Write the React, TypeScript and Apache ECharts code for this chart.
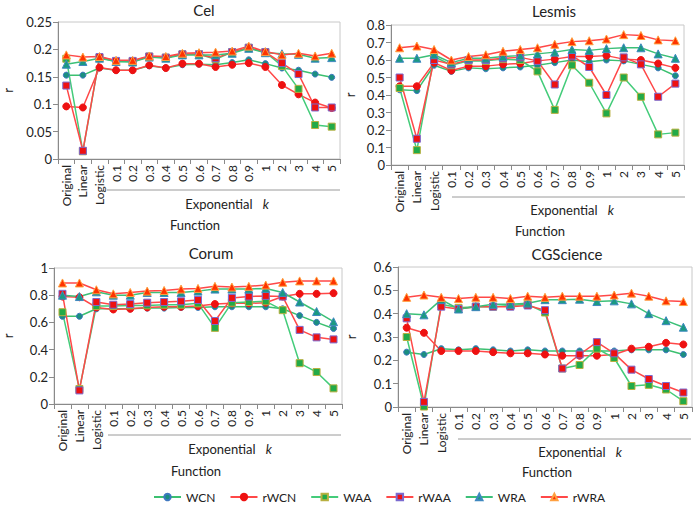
import React, { useEffect, useRef } from "react";
import * as echarts from "echarts";

const categories = ["Original", "Linear", "Logistic", "0.1", "0.2", "0.3", "0.4", "0.5", "0.6", "0.7", "0.8", "0.9", "1", "2", "3", "4", "5"];
const seriesNames = ["WCN", "rWCN", "WAA", "rWAA", "WRA", "rWRA"];
const panelTitles = ["Cel", "Lesmis", "Corum", "CGScience"];
const yMax = [0.25, 0.8, 1, 0.6];
const yStep = [0.05, 0.1, 0.2, 0.1];

// Cel
const celWCN = [0.153, 0.153, 0.166, 0.162, 0.162, 0.17, 0.166, 0.172, 0.173, 0.172, 0.176, 0.181, 0.174, 0.166, 0.162, 0.155, 0.149];
const celRWCN = [0.096, 0.094, 0.167, 0.162, 0.162, 0.171, 0.166, 0.174, 0.174, 0.168, 0.172, 0.175, 0.168, 0.135, 0.118, 0.103, 0.093];
const celWAA = [0.183, 0.014, 0.185, 0.178, 0.178, 0.187, 0.185, 0.191, 0.191, 0.182, 0.195, 0.203, 0.195, 0.17, 0.128, 0.062, 0.059];
const celRWAA = [0.134, 0.015, 0.186, 0.179, 0.179, 0.187, 0.185, 0.191, 0.191, 0.184, 0.195, 0.203, 0.195, 0.175, 0.155, 0.094, 0.094];
const celWRA = [0.173, 0.178, 0.184, 0.178, 0.177, 0.186, 0.184, 0.19, 0.19, 0.19, 0.193, 0.202, 0.194, 0.192, 0.191, 0.184, 0.185];
const celRWRA = [0.19, 0.186, 0.187, 0.18, 0.18, 0.188, 0.187, 0.193, 0.194, 0.195, 0.197, 0.206, 0.196, 0.19, 0.193, 0.188, 0.193];

// Lesmis
const lesWCN = [0.43, 0.425, 0.57, 0.535, 0.555, 0.55, 0.555, 0.56, 0.57, 0.585, 0.6, 0.59, 0.6, 0.595, 0.575, 0.555, 0.51];
const lesRWCN = [0.45, 0.45, 0.585, 0.54, 0.565, 0.565, 0.575, 0.58, 0.595, 0.605, 0.62, 0.62, 0.625, 0.605, 0.6, 0.58, 0.555];
const lesWAA = [0.44, 0.085, 0.62, 0.57, 0.595, 0.595, 0.605, 0.6, 0.535, 0.315, 0.57, 0.47, 0.295, 0.5, 0.39, 0.175, 0.185];
const lesRWAA = [0.5, 0.15, 0.6, 0.575, 0.6, 0.6, 0.61, 0.615, 0.595, 0.46, 0.625, 0.56, 0.4, 0.615, 0.575, 0.39, 0.465];
const lesWRA = [0.61, 0.61, 0.63, 0.585, 0.61, 0.61, 0.62, 0.625, 0.635, 0.645, 0.66, 0.655, 0.665, 0.67, 0.67, 0.635, 0.61];
const lesRWRA = [0.67, 0.68, 0.66, 0.6, 0.62, 0.63, 0.65, 0.66, 0.67, 0.69, 0.705, 0.71, 0.72, 0.745, 0.74, 0.715, 0.71];

// Corum
const corWCN = [0.645, 0.645, 0.7, 0.7, 0.7, 0.705, 0.705, 0.71, 0.71, 0.715, 0.715, 0.715, 0.715, 0.7, 0.65, 0.6, 0.555];
const corRWCN = [0.79, 0.785, 0.71, 0.695, 0.7, 0.71, 0.715, 0.715, 0.72, 0.735, 0.74, 0.74, 0.745, 0.79, 0.81, 0.81, 0.815];
const corWAA = [0.675, 0.11, 0.72, 0.72, 0.725, 0.725, 0.73, 0.73, 0.74, 0.56, 0.745, 0.75, 0.755, 0.69, 0.3, 0.235, 0.115];
const corRWAA = [0.81, 0.1, 0.75, 0.73, 0.735, 0.745, 0.75, 0.755, 0.765, 0.61, 0.78, 0.79, 0.795, 0.79, 0.545, 0.49, 0.475];
const corWRA = [0.8, 0.79, 0.825, 0.8, 0.8, 0.82, 0.82, 0.82, 0.83, 0.845, 0.845, 0.845, 0.85, 0.82, 0.75, 0.68, 0.605];
const corRWRA = [0.89, 0.89, 0.84, 0.81, 0.82, 0.83, 0.835, 0.845, 0.85, 0.865, 0.86, 0.865, 0.875, 0.895, 0.905, 0.905, 0.905];

// CGScience
const cgsWCN = [0.235, 0.225, 0.25, 0.245, 0.25, 0.245, 0.24, 0.245, 0.24, 0.24, 0.24, 0.24, 0.24, 0.245, 0.245, 0.245, 0.225];
const cgsRWCN = [0.34, 0.318, 0.24, 0.24, 0.24, 0.235, 0.23, 0.23, 0.225, 0.22, 0.22, 0.22, 0.225, 0.25, 0.258, 0.275, 0.268];
const cgsWAA = [0.3, 0.002, 0.44, 0.425, 0.43, 0.43, 0.435, 0.44, 0.405, 0.165, 0.18, 0.25, 0.21, 0.09, 0.095, 0.075, 0.025];
const cgsRWAA = [0.38, 0.022, 0.43, 0.42, 0.43, 0.43, 0.43, 0.435, 0.415, 0.165, 0.225, 0.278, 0.23, 0.16, 0.12, 0.09, 0.062];
const cgsWRA = [0.4, 0.395, 0.46, 0.42, 0.43, 0.44, 0.44, 0.445, 0.46, 0.46, 0.462, 0.452, 0.455, 0.442, 0.4, 0.37, 0.342];
const cgsRWRA = [0.47, 0.48, 0.47, 0.465, 0.47, 0.47, 0.465, 0.475, 0.47, 0.475, 0.475, 0.475, 0.48, 0.488, 0.475, 0.455, 0.452];

const panelData = [
  [celWCN, celRWCN, celWAA, celRWAA, celWRA, celRWRA],
  [lesWCN, lesRWCN, lesWAA, lesRWAA, lesWRA, lesRWRA],
  [corWCN, corRWCN, corWAA, corRWAA, corWRA, corRWRA],
  [cgsWCN, cgsRWCN, cgsWAA, cgsRWAA, cgsWRA, cgsRWRA],
];

const FONT = "Lato";

const seriesStyles = [
  { symbol: "circle", size: 6, line: "#3cc070", fill: "#1a8f80", border: "#3f78c0" },
  { symbol: "circle", size: 7, line: "#ff4848", fill: "#ee1111", border: "#ee1111" },
  { symbol: "rect", size: 7, line: "#44cc7a", fill: "#22aa48", border: "#b8b040" },
  { symbol: "rect", size: 7, line: "#ff4848", fill: "#ee1111", border: "#7a6ad0" },
  { symbol: "triangle", size: 8, line: "#3cc078", fill: "#1a9a82", border: "#3f88c0" },
  { symbol: "triangle", size: 8, line: "#ff4848", fill: "#ff3300", border: "#ffa040" },
];

const grids = [
  { left: 50, top: 22, width: 290, height: 137 },
  { left: 391, top: 25, width: 293, height: 140 },
  { left: 49, top: 268, width: 293, height: 136 },
  { left: 398, top: 267, width: 294, height: 140 },
];
const titlePos = [[204, 10], [554, 11], [211, 253], [567, 254]];
const expPos = [[227, 204], [572, 210], [230, 449], [580, 452]];
const funcPos = [[195, 225], [540, 231], [196, 471], [547, 472]];
const groupLine = [[107, 340, 190], [452, 685, 197], [108, 341, 435], [458, 691, 439]];
const rGap = [44, 35, 40, 41];

export default function App() {
  const ref = useRef<HTMLDivElement>(null);
  useEffect(() => {
    document.body.style.margin = "0";
    if (!ref.current) return;
    const chart = echarts.init(ref.current, null, { renderer: "svg" });
    const series: any[] = [];
    panelData.forEach((arrs, p) => {
      arrs.forEach((arr, s) => {
        const st = seriesStyles[s];
        series.push({
          name: seriesNames[s],
          type: "line",
          xAxisIndex: p,
          yAxisIndex: p,
          data: arr,
          symbol: st.symbol,
          symbolSize: st.size,
          lineStyle: { color: st.line, width: 1.5 },
          itemStyle: { color: st.fill, borderColor: st.border, borderWidth: 1 },
          emphasis: { disabled: true },
        });
      });
    });
    const graphic: any[] = [];
    panelTitles.forEach((t, p) => {
      graphic.push({
        type: "text", x: titlePos[p][0], y: titlePos[p][1],
        style: { text: t, fontSize: 15, fontFamily: FONT, fill: "#222", textAlign: "center", textVerticalAlign: "middle" },
      });
      graphic.push({
        type: "text", x: expPos[p][0], y: expPos[p][1],
        style: {
          text: "{a|Exponential}{b|k}",
          rich: {
            a: { fontSize: 13, fontFamily: FONT, fill: "#222", padding: [0, 10, 0, 0] },
            b: { fontSize: 13, fontFamily: FONT, fill: "#222", fontStyle: "italic" },
          },
          textAlign: "center", textVerticalAlign: "middle",
        },
      });
      graphic.push({
        type: "text", x: funcPos[p][0], y: funcPos[p][1],
        style: { text: "Function", fontSize: 13, fontFamily: FONT, fill: "#222", textAlign: "center", textVerticalAlign: "middle" },
      });
      graphic.push({
        type: "line",
        shape: { x1: groupLine[p][0], y1: groupLine[p][2], x2: groupLine[p][1], y2: groupLine[p][2] },
        style: { stroke: "#9a9a9a", lineWidth: 1 },
      });
    });
    chart.setOption({
      animation: false,
      textStyle: { fontFamily: FONT },
      grid: grids.map((g) => ({ ...g, show: true, borderColor: "#c8c8c8", borderWidth: 1, containLabel: false })),
      xAxis: grids.map((_, p) => ({
        type: "category",
        gridIndex: p,
        data: categories,
        boundaryGap: true,
        axisLine: { lineStyle: { color: "#8a8a8a", width: 1 } },
        axisTick: { show: true, length: 5, lineStyle: { color: "#8a8a8a" } },
        axisLabel: { rotate: 90, fontSize: 12, color: "#222", margin: 6, interval: 0, fontFamily: FONT },
        splitLine: { show: false },
      })),
      yAxis: grids.map((_, p) => ({
        type: "value",
        gridIndex: p,
        min: 0,
        max: yMax[p],
        interval: yStep[p],
        name: "r",
        nameLocation: "middle",
        nameGap: rGap[p],
        nameRotate: 90,
        nameTextStyle: { fontSize: 13, color: "#222", fontFamily: FONT },
        axisLine: { show: true, lineStyle: { color: "#8a8a8a", width: 1 } },
        axisTick: { show: true, length: 5, lineStyle: { color: "#8a8a8a" } },
        axisLabel: { fontSize: 13, color: "#222", margin: 6, fontFamily: FONT },
        splitLine: { show: false },
      })),
      legend: {
        data: seriesNames,
        left: 153,
        top: 491,
        padding: 0,
        itemWidth: 27,
        itemHeight: 8,
        itemGap: 14,
        textStyle: { fontSize: 12, color: "#222", fontFamily: FONT },
      },
      graphic,
      series,
    });
    return () => chart.dispose();
  }, []);
  return <div ref={ref} style={{ width: 700, height: 505 }} />;
}
